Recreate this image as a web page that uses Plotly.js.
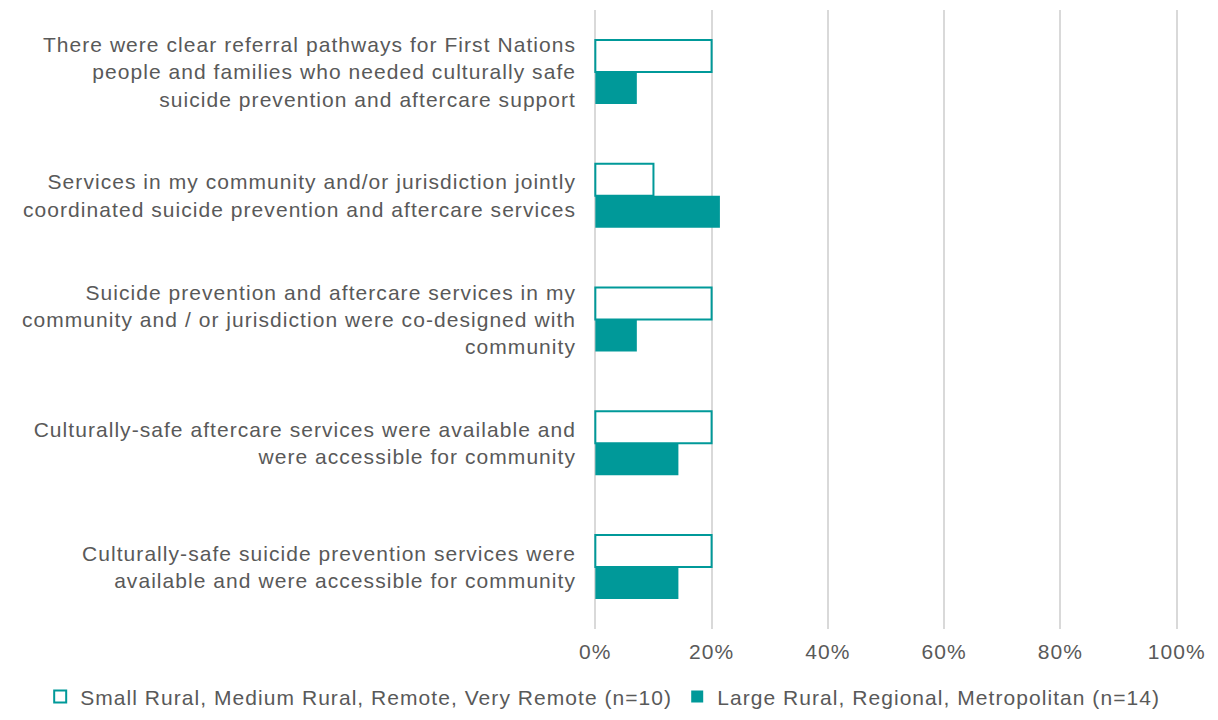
<!DOCTYPE html>
<html><head><meta charset="utf-8">
<script src="https://cdn.plot.ly/plotly-3.0.1.min.js"></script>
<style>body{margin:0;background:#fff}#chart{width:1218px;height:720px}
text{letter-spacing:1.05px}</style>
</head><body><div id="chart"></div>
<script>
const categories = [
  "There were clear referral pathways for First Nations<br>people and families who needed culturally safe<br>suicide prevention and aftercare support",
  "Services in my community and/or jurisdiction jointly<br>coordinated suicide prevention and aftercare services",
  "Suicide prevention and aftercare services in my<br>community and / or jurisdiction were co-designed with<br>community",
  "Culturally-safe aftercare services were available and<br>were accessible for community",
  "Culturally-safe suicide prevention services were<br>available and were accessible for community"
];
const seriesNames = [
  "Small Rural, Medium Rural, Remote, Very Remote (n=10)",
  "Large Rural, Regional, Metropolitan (n=14)"
];
const smallRural = [0.20, 0.10, 0.20, 0.20, 0.20];
const largeRural = [0.0714, 0.2143, 0.0714, 0.1429, 0.1429];
const xTicks = [0, 0.2, 0.4, 0.6, 0.8, 1.0];
const xTickLabels = ["0%", "20%", "40%", "60%", "80%", "100%"];

const teal = "#009999";
const data = [
  {type:"bar", orientation:"h", name:seriesNames[0], y:categories, x:smallRural,
   legend:"legend", marker:{color:"#ffffff", line:{color:teal, width:2}}},
  {type:"bar", orientation:"h", name:seriesNames[1], y:categories, x:largeRural,
   legend:"legend2", marker:{color:teal, line:{color:teal, width:0}}}
];
const legendBase = {orientation:"h", xref:"container", yref:"container", xanchor:"left",
  y:0.032, yanchor:"middle", font:{size:21, color:"#595959"}, itemwidth:30,
  bgcolor:"rgba(0,0,0,0)"};
const layout = {
  width:1218, height:720,
  margin:{l:593, r:39, t:10, b:91},
  paper_bgcolor:"#fff", plot_bgcolor:"#fff",
  font:{family:"Liberation Sans, Arial, sans-serif", color:"#595959", size:21},
  barmode:"group", bargap:0.483, bargroupgap:0,
  xaxis:{range:[-0.004,1.004], tickvals:xTicks, ticktext:xTickLabels, showgrid:true,
    gridcolor:"#d9d9d9", gridwidth:2, zeroline:false, showline:false, ticks:"",
    ticklabelstandoff:8, tickfont:{size:21, color:"#595959"}, fixedrange:true},
  yaxis:{autorange:"reversed", showgrid:false, zeroline:false, showline:false, ticks:"",
    ticklabelstandoff:16, tickfont:{size:21, color:"#595959"}, automargin:false},
  showlegend:true,
  legend:Object.assign({}, legendBase, {x:0.033}),
  legend2:Object.assign({}, legendBase, {x:0.556})
};
Plotly.newPlot("chart", data, layout, {displayModeBar:false, staticPlot:true});
</script></body></html>
